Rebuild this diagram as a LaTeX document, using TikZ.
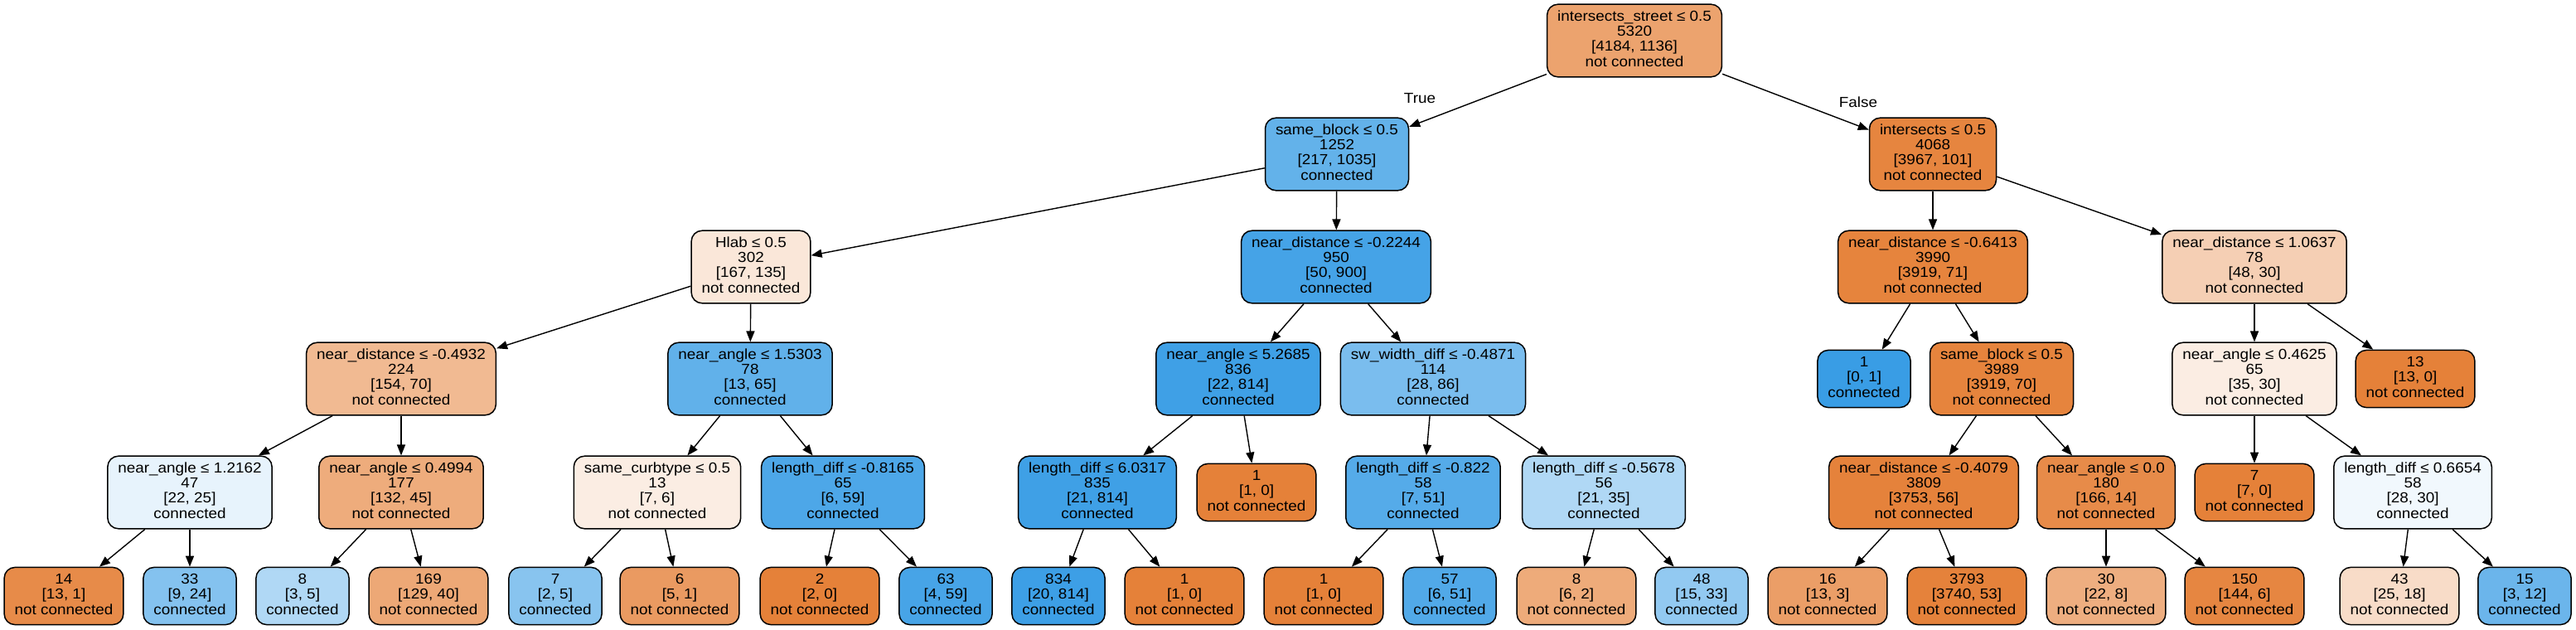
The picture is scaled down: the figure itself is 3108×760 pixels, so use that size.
\documentclass[tikz,border=0pt]{standalone}
\usepackage{fontspec}
\setmainfont{Liberation Sans}[FakeStretch=1.08]
\usetikzlibrary{arrows.meta}
\definecolor{org}{RGB}{229,129,57}
\definecolor{blu}{RGB}{57,157,229}
\newcommand\tn[4]{\strut#1\\#2\\{[}#3{]}\\#4\strut}
\newcommand\lf[3]{\strut#1\\{[}#2{]}\\#3\strut}
\tikzset{
  box/.style={draw=black, line width=1.5pt, rounded corners=13pt, align=center,
    inner xsep=12.5pt, inner ysep=7pt, font=\fontsize{17.5}{18.4}\selectfont},
  o/.style={box, fill=org!#1!white},
  b/.style={box, fill=blu!#1!white},
  edge/.style={line width=1.4pt, draw=black, -{Triangle[length=13pt,width=10pt]}},
  lab/.style={font=\fontsize{17.5}{18.4}\selectfont, inner sep=0pt}
}
\begin{document}
\begin{tikzpicture}[x=1pt,y=-1pt]
\fill[white] (0,0) rectangle (3108,760);
\useasboundingbox (0,0) rectangle (3108,760);
\def\ra{49}\def\rb{186}\def\rc{322}\def\rd{457}\def\re{594}\def\rf{719}
% row 0
\node[o=73] (n0) at (1972,\ra) {\tn{intersects\_street ≤ 0.5}{5320}{4184, 1136}{not connected}};
% row 1
\node[b=79] (n1) at (1613,\rb) {\tn{same\_block ≤ 0.5}{1252}{217, 1035}{connected}};
\node[o=97] (n2) at (2332,\rb) {\tn{intersects ≤ 0.5}{4068}{3967, 101}{not connected}};
% row 2
\node[o=19] (n3) at (906,\rc) {\tn{Hlab ≤ 0.5}{302}{167, 135}{not connected}};
\node[b=94] (n4) at (1612,\rc) {\tn{near\_distance ≤ -0.2244}{950}{50, 900}{connected}};
\node[o=98] (n5) at (2332,\rc) {\tn{near\_distance ≤ -0.6413}{3990}{3919, 71}{not connected}};
\node[o=38] (n6) at (2720,\rc) {\tn{near\_distance ≤ 1.0637}{78}{48, 30}{not connected}};
% row 3
\node[o=55] (n7) at (484,\rd) {\tn{near\_distance ≤ -0.4932}{224}{154, 70}{not connected}};
\node[b=80] (n8) at (905,\rd) {\tn{near\_angle ≤ 1.5303}{78}{13, 65}{connected}};
\node[b=97] (n9) at (1494,\rd) {\tn{near\_angle ≤ 5.2685}{836}{22, 814}{connected}};
\node[b=67] (n10) at (1729,\rd) {\tn{sw\_width\_diff ≤ -0.4871}{114}{28, 86}{connected}};
\node[b=100] (n11) at (2249,\rd) {\lf{1}{0, 1}{connected}};
\node[o=98] (n12) at (2415,\rd) {\tn{same\_block ≤ 0.5}{3989}{3919, 70}{not connected}};
\node[o=14] (n13) at (2720,\rd) {\tn{near\_angle ≤ 0.4625}{65}{35, 30}{not connected}};
\node[o=100] (n14) at (2914,\rd) {\lf{13}{13, 0}{not connected}};
% row 4
\node[b=12] (n15) at (229,\re) {\tn{near\_angle ≤ 1.2162}{47}{22, 25}{connected}};
\node[o=66] (n16) at (484,\re) {\tn{near\_angle ≤ 0.4994}{177}{132, 45}{not connected}};
\node[o=14] (n17) at (793,\re) {\tn{same\_curbtype ≤ 0.5}{13}{7, 6}{not connected}};
\node[b=90] (n18) at (1017,\re) {\tn{length\_diff ≤ -0.8165}{65}{6, 59}{connected}};
\node[b=97] (n19) at (1324,\re) {\tn{length\_diff ≤ 6.0317}{835}{21, 814}{connected}};
\node[o=100] (n20) at (1516,\re) {\lf{1}{1, 0}{not connected}};
\node[b=86] (n21) at (1717,\re) {\tn{length\_diff ≤ -0.822}{58}{7, 51}{connected}};
\node[b=40] (n22) at (1935,\re) {\tn{length\_diff ≤ -0.5678}{56}{21, 35}{connected}};
\node[o=99] (n23) at (2321,\re) {\tn{near\_distance ≤ -0.4079}{3809}{3753, 56}{not connected}};
\node[o=92] (n24) at (2541,\re) {\tn{near\_angle ≤ 0.0}{180}{166, 14}{not connected}};
\node[o=100] (n25) at (2720,\re) {\lf{7}{7, 0}{not connected}};
\node[b=7] (n26) at (2911,\re) {\tn{length\_diff ≤ 0.6654}{58}{28, 30}{connected}};
% row 5 leaves
\node[o=92] (l1) at (77,\rf) {\lf{14}{13, 1}{not connected}};
\node[b=62] (l2) at (229,\rf) {\lf{33}{9, 24}{connected}};
\node[b=40] (l3) at (365,\rf) {\lf{8}{3, 5}{connected}};
\node[o=69] (l4) at (517,\rf) {\lf{169}{129, 40}{not connected}};
\node[b=60] (l5) at (670,\rf) {\lf{7}{2, 5}{connected}};
\node[o=80] (l6) at (820,\rf) {\lf{6}{5, 1}{not connected}};
\node[o=100] (l7) at (989,\rf) {\lf{2}{2, 0}{not connected}};
\node[b=93] (l8) at (1141,\rf) {\lf{63}{4, 59}{connected}};
\node[b=98] (l9) at (1277,\rf) {\lf{834}{20, 814}{connected}};
\node[o=100] (l10) at (1429,\rf) {\lf{1}{1, 0}{not connected}};
\node[o=100] (l11) at (1597,\rf) {\lf{1}{1, 0}{not connected}};
\node[b=88] (l12) at (1749,\rf) {\lf{57}{6, 51}{connected}};
\node[o=67] (l13) at (1902,\rf) {\lf{8}{6, 2}{not connected}};
\node[b=55] (l14) at (2053,\rf) {\lf{48}{15, 33}{connected}};
\node[o=77] (l15) at (2205,\rf) {\lf{16}{13, 3}{not connected}};
\node[o=99] (l16) at (2373,\rf) {\lf{3793}{3740, 53}{not connected}};
\node[o=64] (l17) at (2541,\rf) {\lf{30}{22, 8}{not connected}};
\node[o=96] (l18) at (2708,\rf) {\lf{150}{144, 6}{not connected}};
\node[o=28] (l19) at (2895,\rf) {\lf{43}{25, 18}{not connected}};
\node[b=75] (l20) at (3046,\rf) {\lf{15}{3, 12}{connected}};
% labels
\node[lab] (tl) at (1713,119) {True};
\node[lab] (fl) at (2242,123) {False};
% edges
\foreach \a/\b in {n0/n1,n0/n2,n1/n3,n1/n4,n2/n5,n2/n6,n3/n7,n3/n8,n4/n9,n4/n10,
  n5/n11,n5/n12,n6/n13,n6/n14,n7/n15,n7/n16,n8/n17,n8/n18,n9/n19,n9/n20,
  n10/n21,n10/n22,n12/n23,n12/n24,n13/n25,n13/n26,n15/l1,n15/l2,n16/l3,n16/l4,
  n17/l5,n17/l6,n18/l7,n18/l8,n19/l9,n19/l10,n21/l11,n21/l12,n22/l13,n22/l14,
  n23/l15,n23/l16,n24/l17,n24/l18,n26/l19,n26/l20}
  \draw[edge] (\a) -- (\b);
\end{tikzpicture}
\end{document}
